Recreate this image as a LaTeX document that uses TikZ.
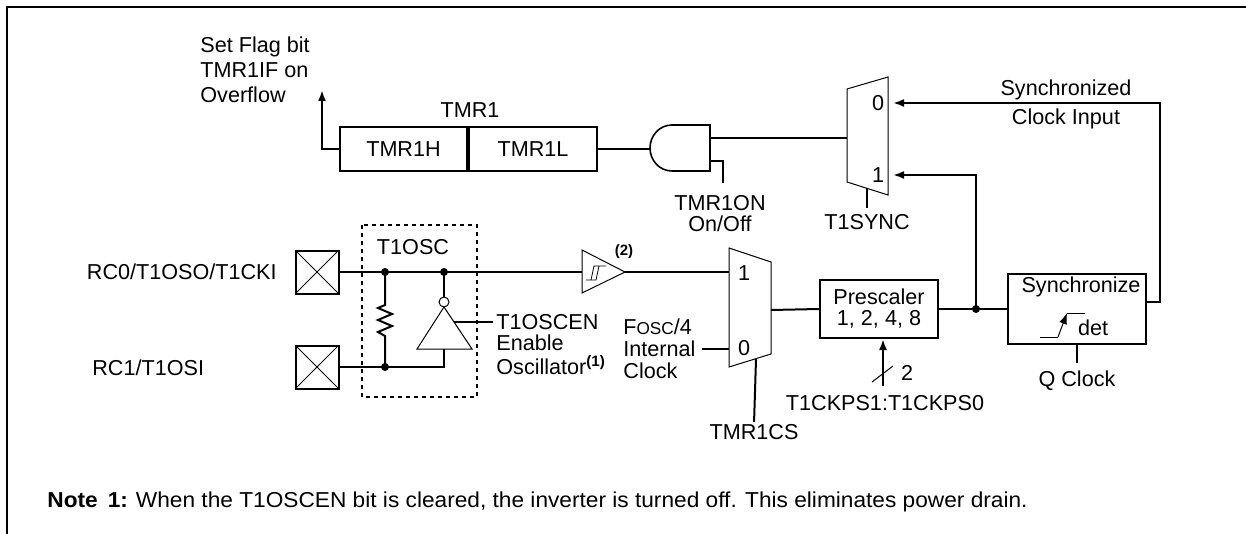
\documentclass[tikz,border=0pt]{standalone}
\usepackage{fontspec}
\setmainfont{Liberation Sans}
\newfontfamily\notefont[FakeStretch=1.05]{Liberation Sans}
\usetikzlibrary{calc,positioning,arrows.meta}

\tikzset{
  wire/.style={line width=1pt},
  thinline/.style={line width=0.5pt},
  tip/.style={-{Latex[length=5.5pt,width=4pt]}},
  lbl/.style={inner sep=0pt},
  linesep/.style={font=\fontsize{10.8pt}{#1}\selectfont},
  regbox/.style={draw,line width=1pt,minimum height=22pt,inner sep=0pt},
  padbox/.style={draw,line width=1pt,minimum width=21.5pt,minimum height=21.5pt,inner sep=0pt,
    path picture={\draw[line width=0.4pt] (path picture bounding box.north west) -- (path picture bounding box.south east)
      (path picture bounding box.north east) -- (path picture bounding box.south west);}},
  jdot/.style={circle,fill,inner sep=0pt,minimum size=4pt},
}

\begin{document}
\begin{tikzpicture}[x=0.5pt,y=-0.5pt,font=\fontsize{10.8pt}{13pt}\selectfont]
  \useasboundingbox (0,0) rectangle (1246,534);
  % frame
  \draw[wire] (1246,7) -- (7,7) -- (7,534);

  % pins
  \node[padbox] (rc0) at (317,272) {};
  \node[padbox] (rc1) at (317,367) {};
  \node[lbl,anchor=east] (rc0lbl) at (277,272) {RC0/T1OSO/T1CKI};
  \node[lbl,anchor=west] (rc1lbl) at (92,368) {RC1/T1OSI};

  % oscillator
  \coordinate (jr1) at (385,272);
  \coordinate (jinv) at (444,272);
  \coordinate (jr2) at (385,367);
  \coordinate (invbase) at (444,349);
  \coordinate (bufin) at (582,272);
  \coordinate (bufout) at (625,272);
  \draw[wire,dash pattern=on 2pt off 2pt] (362,225) rectangle (477,397);
  \node[lbl] (t1osc) at (413,247) {T1OSC};
  \draw[wire] (rc0.east) -- (bufin);
  \draw[wire] (rc1.east) -| (invbase);
  \draw[wire] (jr1) -- (385,305) -- (378,308) -- (392,314) -- (378,320) -- (392,326) -- (378,332) -- (385,336) -- (jr2);
  \draw[thinline] (417,349) -- (472,349) -- (444,307) -- cycle;
  \draw[thinline] (444,302) circle (2.5pt);
  \draw[wire] (jinv) -- (444,297);
  \node[lbl,anchor=west] (t1oscen) at (496,322) {T1OSCEN};
  \node[lbl,anchor=west,align=left,linesep=12pt] (enosc) at (496,355) {Enable\\Oscillator\textsuperscript{\bfseries (1)}};
  \draw[wire] (454,322) -- ([xshift=-1.5pt]t1oscen.west);
  \foreach \j in {jr1,jinv,jr2} \node[jdot] at (\j) {};

  % input buffer
  \draw[thinline] (bufin) -- (582,250) -- (bufout) -- (582,293) -- cycle;
  \draw[line width=0.4pt] (586,280) -- (596,280) -- (599,266);
  \draw[line width=0.4pt] (591,280) -- (594,266) -- (606,266);
  \node[lbl,font=\bfseries\fontsize{7.5pt}{9pt}\selectfont] (note2) at (624,252) {(2)};

  % clock source mux
  \coordinate (m1in1) at (729,272);
  \coordinate (m1in0) at (729,349);
  \coordinate (m1out) at (771,310);
  \coordinate (m1sel) at (756,359);
  \draw[thinline] (729,248) -- (771,262) -- (771,354) -- (729,367) -- cycle;
  \node[lbl] (m1one) at (744,273) {1};
  \node[lbl] (m1zero) at (744,348) {0};
  \node[lbl,inner xsep=3pt,anchor=west,align=left,linesep=11pt] (fosc) at (617,349) {F{\fontsize{8.6pt}{10pt}\selectfont OSC}/4\\Internal\\Clock};
  \node[lbl] (tmr1cs) at (754,432) {TMR1CS};
  \draw[wire] (bufout) -- (m1in1);
  \draw[wire] (fosc.east) -- (m1in0);
  \draw[wire,shorten >=1pt] (m1sel) -- (tmr1cs.north);

  % prescaler
  \node[regbox,minimum width=59pt,minimum height=29pt,align=center,linesep=10.5pt] (prescaler) at (879,309) {Prescaler\\1, 2, 4, 8};
  \node[lbl] (ckps) at (885,403) {T1CKPS1:T1CKPS0};
  \coordinate (ckpsin) at (883,386);
  \draw[wire,tip] (ckpsin) -- (ckpsin |- prescaler.south);
  \draw[thinline] (872,382) -- (893,366);
  \node[lbl] (bits) at (907,373) {2};
  \draw[wire] (m1out) -- (prescaler.west);

  % synchronizer
  \node[regbox,minimum width=69pt,minimum height=35pt] (sync) at (1077,309) {};
  \node[lbl] (synctxt) at (1081,287) {Synchronize};
  \node[lbl] (dettxt) at (1093,328) {det};
  \draw[thinline] (1040,337) -- (1058,337);
  \draw[thinline,tip] (1058,337) -- (1067,313);
  \draw[thinline] (1067,313) -- (1085,313);
  \node[lbl] (qclk) at (1077,381) {Q Clock};
  \draw[wire,shorten >=4pt] (sync.south) -- (qclk.north);
  \coordinate (jsync) at (976,309);
  \coordinate (syncout) at (1146,302);
  \coordinate (loopr) at (1160,103);
  \draw[wire] (prescaler.east) -- (sync.west);
  \node[jdot] at (jsync) {};

  % sync select mux
  \coordinate (m2in0) at (888,103);
  \coordinate (m2in1) at (888,175);
  \coordinate (m2out) at (847,138);
  \coordinate (m2sel) at (867,188);
  \draw[thinline] (847,89) -- (888,77) -- (888,195) -- (847,182) -- cycle;
  \node[lbl] (m2zero) at (878,103) {0};
  \node[lbl] (m2one) at (878,175) {1};
  \node[lbl] (t1sync) at (867,222) {T1SYNC};
  \draw[wire,shorten >=3pt] (m2sel) -- (t1sync.north);
  \draw[wire,tip,shorten >=2.5pt] (syncout) -| (loopr) -- (m2in0);
  \draw[wire,tip,shorten >=2.5pt] (jsync) |- (m2in1);
  \node[lbl,align=center,linesep=14.5pt] (synclbl) at (1066,104) {Synchronized\\Clock Input};

  % gate and timer register
  \coordinate (andin) at (650,149);
  \coordinate (andout) at (710,138);
  \coordinate (anden) at (710,161);
  \coordinate (tmr1onin) at (723,183);
  \draw[line width=0.8pt] (710,125) -- (672,125) .. controls (659,125) and (650,136) .. (650,148)
    .. controls (650,160) and (659,171) .. (672,171) -- (710,171) -- cycle;
  \draw[wire] (m2out) -- (andout);
  \draw[wire] (anden) -| (tmr1onin);
  \node[lbl,align=center,linesep=10.5pt] (tmr1on) at (720,214) {TMR1ON\\On/Off};
  \node[regbox,minimum width=63.5pt] (tmr1h) at (403.5,149) {TMR1H};
  \node[regbox,minimum width=64pt,anchor=west] (tmr1l) at (tmr1h.east) {TMR1L};
  \node[lbl] (tmr1) at (470,110) {TMR1};
  \draw[wire] (tmr1l.east) -- (andin);
  \coordinate (flagtip) at (322,90);
  \draw[wire,tip] (tmr1h.west) -| (flagtip);
  \node[lbl,anchor=west,align=left,linesep=12.5pt] (flaglbl) at (200,70) {Set Flag bit\\TMR1IF on\\Overflow};

  % note
  \node[lbl,anchor=west,font=\notefont\fontsize{10.8pt}{13pt}\selectfont] (note) at (47,502)
    {\textbf{Note}\hspace{5pt}\textbf{1:}\hspace{4pt}When the T1OSCEN bit is cleared, the inverter is turned off. This eliminates power drain.};
\end{tikzpicture}
\end{document}
